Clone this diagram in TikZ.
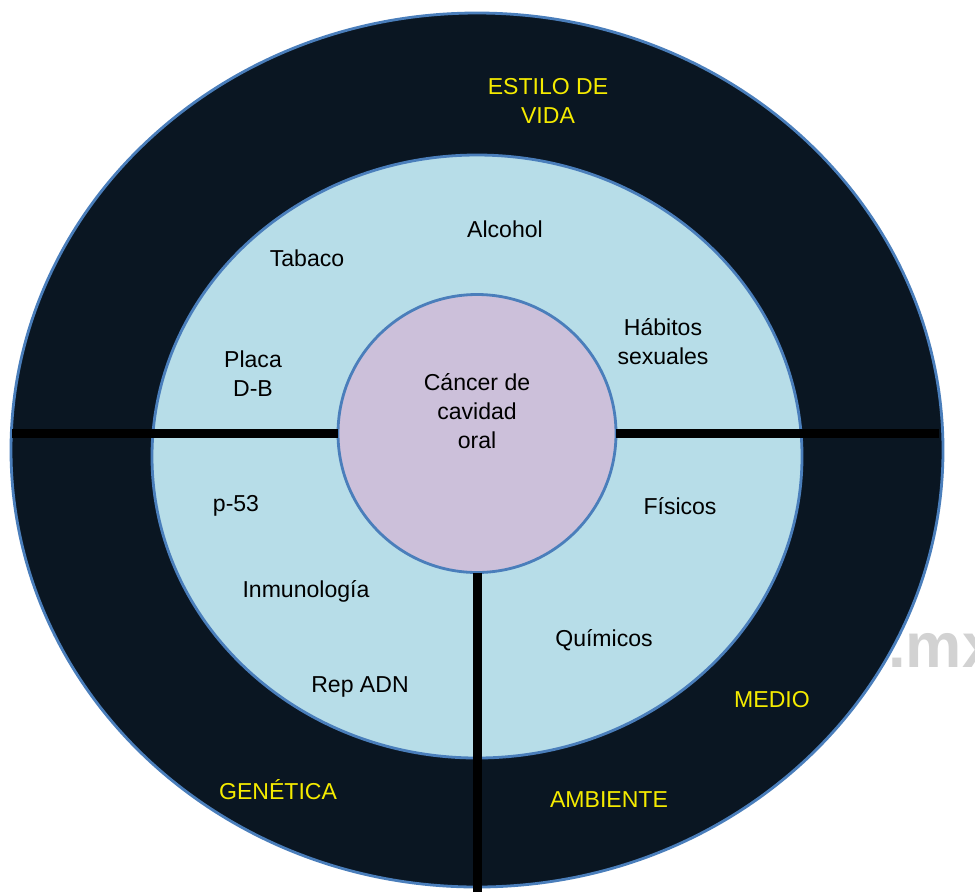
\documentclass[tikz,border=0pt]{standalone}
\usepackage{fontspec}
\setmainfont{Liberation Sans}
\usetikzlibrary{shapes.geometric}

\definecolor{navy}{HTML}{0A1622}
\definecolor{rim}{HTML}{4A7EBB}
\definecolor{sky}{HTML}{B7DDE8}
\definecolor{lilac}{HTML}{CCC0DA}
\definecolor{gold}{HTML}{F5EB00}
\definecolor{wmgray}{HTML}{D2D2D2}

\begin{document}
\begin{tikzpicture}[%
    ring/.style={%
        draw=rim,
        line width=2pt,
        ellipse,
        inner sep=0pt,
        outer sep=0pt
    },
    factor/.style={%
        align=center,
        text=black,
        font=\fontsize{16.4pt}{20.6pt}\selectfont
    },
    group/.style={%
        align=center,
        text=gold,
        font=\fontsize{16.4pt}{20.6pt}\selectfont
    },
    divider/.style={%
        line width=6.4pt,
        black
    }
]
\useasboundingbox (0,0) rectangle (24.375,-22.275);

% Watermark behind the rings
    \node[anchor=base west, inner sep=0pt, text=wmgray,
          font=\fontsize{45pt}{45pt}\bfseries\selectfont] (wm) at (22.2,-16.675) {.mx};

% Rings
    \node[ring, fill=navy, minimum width=23.3cm, minimum height=21.85cm] (outer) at (11.925,-11.25) {};
    \node[ring, fill=sky, minimum width=16.25cm, minimum height=15.075cm] (middle) at (11.925,-11.4125) {};

% Core
    \node[ring, circle, fill=lilac, minimum size=6.95cm] (core) at (11.925,-10.8375) {};
    \node[factor] (coretext) at (11.925,-10.28) {C\'ancer de\\cavidad\\oral};

% Dividers
    \coordinate (leftend) at (0.3,-10.8375);
    \coordinate (rightend) at (23.48,-10.8375);
    \coordinate (bottom) at (11.925,-22.5);
    \draw[divider] (leftend) -- (core.west);
    \draw[divider] (core.east) -- (rightend);
    \draw[divider] (core.south) -- (bottom);

% Estilo de vida
    \node[group] (estilo) at (13.7,-2.53) {ESTILO DE\\VIDA};
    \node[factor] (alcohol) at (12.625,-5.72) {Alcohol};
    \node[factor] (tabaco) at (7.675,-6.45) {Tabaco};
    \node[factor] (habitos) at (16.575,-8.53) {H\'abitos\\sexuales};
    \node[factor] (placa) at (6.325,-9.35) {Placa\\D-B};

% Genetica
    \node[factor] (p53) at (5.9,-12.65) {p-53};
    \node[factor] (inmuno) at (7.65,-14.78) {Inmunolog\'ia};
    \node[factor] (rep) at (9.0,-17.18) {Rep ADN};
    \node[group] (genetica) at (6.95,-19.75) {GEN\'ETICA};

% Medio ambiente
    \node[factor] (fisicos) at (17.0,-12.65) {F\'isicos};
    \node[factor] (quimicos) at (15.1,-16.0) {Qu\'imicos};
    \node[group] (medio) at (19.3,-17.5) {MEDIO};
    \node[group] (ambiente) at (15.225,-19.98) {AMBIENTE};

\end{tikzpicture}
\end{document}
